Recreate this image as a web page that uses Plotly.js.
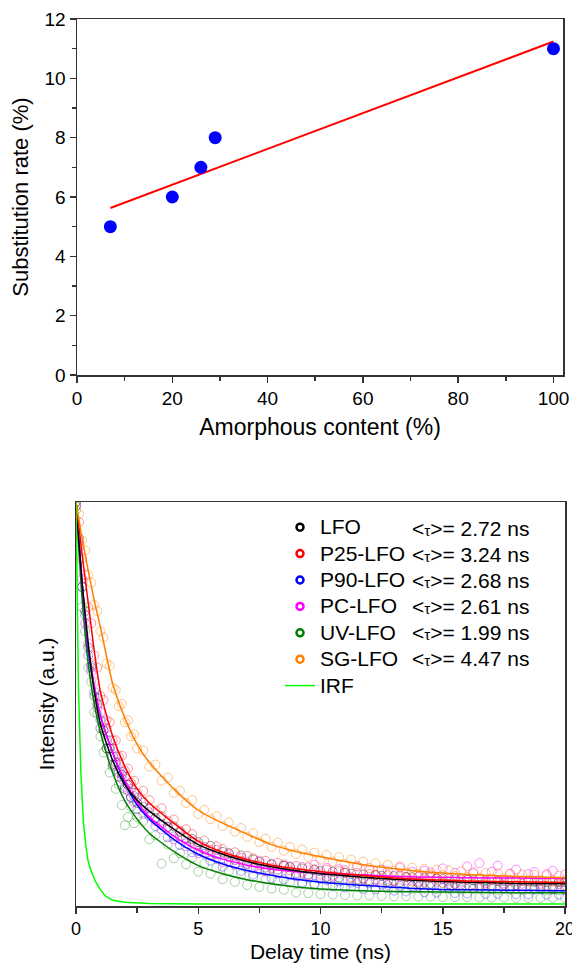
<!DOCTYPE html>
<html>
<head>
<meta charset="utf-8">
<script src="https://cdn.plot.ly/plotly-3.0.1.min.js"></script>
<style>html,body{margin:0;padding:0;background:#fff;}#chart{width:572px;height:965px;}</style>
</head>
<body>
<div id="chart"></div>
<script>
// ---------- Top chart data ----------
const amorphous = [7, 20, 26, 29, 100];
const substitution = [5, 6, 7, 8, 11];
const fitAmorphous = [7, 100];
const fitSubstitution = [5.63, 11.24];

// ---------- Bottom chart data ----------
const seriesNames = ['LFO', 'P25-LFO', 'P90-LFO', 'PC-LFO', 'UV-LFO', 'SG-LFO'];
const tauLabels = ['2.72', '3.24', '2.68', '2.61', '1.99', '4.47'];
const seriesColors = ['#000000', '#ff0000', '#0000ff', '#ff00ff', '#008000', '#ff8000'];
const seriesFaint = ['rgba(0,0,0,0.4)', 'rgba(255,0,0,0.4)', 'rgba(0,0,255,0.35)', 'rgba(255,0,255,0.45)', 'rgba(0,128,0,0.35)', 'rgba(255,128,0,0.45)'];

const tData = [0,0.125,0.25,0.375,0.5,0.625,0.75,0.875,1,1.125,1.25,1.375,1.5,1.625,1.75,1.875,2,2.125,2.25,2.375,2.5,
  2.75,3,3.25,3.5,3.75,4,4.25,4.5,4.75,5,5.25,5.5,5.75,6,6.25,6.5,6.75,7,7.25,7.5,7.75,8,8.25,8.5,8.75,9,9.25,9.5,9.75,10,
  10.25,10.5,10.75,11,11.25,11.5,11.75,12,12.25,12.5,12.75,13,13.25,13.5,13.75,14,14.25,14.5,14.75,15,15.25,15.5,15.75,16,
  16.25,16.5,16.75,17,17.25,17.5,17.75,18,18.25,18.5,18.75,19,19.25,19.5,19.75,20];

const dataLFO = [1.0,0.90,0.79,0.73,0.64,0.595,0.52,0.50,0.44,0.435,0.39,0.39,0.35,0.355,0.32,0.325,0.29,0.30,0.27,0.28,0.255,
  0.256,0.242,0.218,0.222,0.196,0.197,0.183,0.168,0.166,0.158,0.14,0.149,0.128,0.134,0.131,0.114,0.125,0.104,0.115,0.109,0.095,0.103,0.09,0.099,0.096,0.081,0.093,0.078,0.089,0.086,
  0.072,0.085,0.07,0.082,0.08,0.066,0.078,0.064,0.076,0.075,0.061,0.074,0.059,0.072,0.071,0.057,0.07,0.055,0.068,0.067,0.054,0.066,0.053,0.065,
  0.064,0.051,0.063,0.05,0.062,0.062,0.049,0.061,0.049,0.061,0.06,0.048,0.06,0.048,0.06,0.059];
const dataP25 = [0.99,0.95,0.86,0.82,0.74,0.70,0.62,0.59,0.52,0.51,0.46,0.455,0.41,0.41,0.37,0.372,0.335,0.34,0.305,0.31,0.28,
  0.285,0.262,0.236,0.242,0.21,0.214,0.186,0.19,0.178,0.152,0.162,0.139,0.148,0.141,0.121,0.133,0.112,0.124,0.118,0.101,0.112,0.094,0.107,0.103,0.088,0.099,0.083,0.096,0.091,0.078,
  0.09,0.075,0.086,0.083,0.071,0.082,0.068,0.079,0.077,0.065,0.076,0.063,0.075,0.071,0.06,0.072,0.058,0.07,0.068,0.057,0.069,0.055,0.067,0.066,
  0.054,0.066,0.053,0.065,0.064,0.052,0.064,0.051,0.063,0.062,0.05,0.062,0.05,0.061,0.06,0.05];
const dataP90 = [0.99,0.91,0.79,0.72,0.62,0.59,0.53,0.515,0.46,0.455,0.41,0.41,0.37,0.37,0.33,0.332,0.295,0.30,0.268,0.272,0.24,
  0.245,0.222,0.198,0.203,0.17,0.172,0.151,0.155,0.133,0.136,0.129,0.112,0.118,0.097,0.108,0.104,0.087,0.095,0.078,0.089,0.086,0.069,0.081,0.066,0.077,0.074,0.058,0.07,0.055,0.067,
  0.064,0.049,0.061,0.046,0.058,0.057,0.042,0.056,0.041,0.053,0.052,0.038,0.05,0.036,0.049,0.048,0.034,0.047,0.033,0.046,0.045,0.032,0.045,0.031,
  0.044,0.044,0.03,0.043,0.03,0.043,0.042,0.029,0.042,0.029,0.042,0.041,0.028,0.041,0.028,0.04];
const dataPC = [1.0,0.89,0.81,0.70,0.65,0.58,0.555,0.49,0.48,0.435,0.44,0.39,0.39,0.35,0.355,0.315,0.32,0.285,0.29,0.258,0.267,
  0.228,0.232,0.21,0.19,0.195,0.165,0.172,0.148,0.16,0.131,0.146,0.124,0.139,0.109,0.128,0.102,0.119,0.108,0.094,0.112,0.086,0.104,0.082,0.1,0.098,0.075,0.097,0.076,0.102,0.072,
  0.094,0.07,0.091,0.089,0.066,0.098,0.067,0.088,0.064,0.09,0.086,0.062,0.095,0.063,0.085,0.06,0.087,0.083,0.059,0.093,0.06,0.082,0.058,0.098,
  0.081,0.106,0.057,0.085,0.1,0.056,0.08,0.09,0.055,0.079,0.084,0.055,0.079,0.087,0.054,0.078];
const dataUV = [0.98,0.86,0.74,0.68,0.59,0.555,0.48,0.475,0.42,0.38,0.39,0.33,0.345,0.29,0.30,0.25,0.20,0.22,0.245,0.205,0.22,
  0.21,0.165,0.175,0.105,0.152,0.118,0.131,0.103,0.12,0.085,0.104,0.08,0.095,0.066,0.087,0.06,0.078,0.052,0.072,0.047,0.066,0.043,0.062,0.04,0.058,0.033,0.055,0.032,0.052,0.029,
  0.05,0.028,0.049,0.027,0.047,0.026,0.046,0.026,0.045,0.025,0.044,0.024,0.044,0.024,0.043,0.023,0.043,0.023,0.042,0.022,0.042,0.022,0.041,0.022,
  0.041,0.021,0.041,0.021,0.04,0.021,0.04,0.02,0.04,0.02,0.04,0.02,0.039,0.02,0.039,0.02];
const dataSG = [1.0,0.97,0.905,0.88,0.82,0.80,0.745,0.73,0.68,0.665,0.60,0.595,0.54,0.535,0.495,0.50,0.455,0.46,0.42,0.425,0.39,
  0.385,0.345,0.35,0.31,0.318,0.28,0.285,0.255,0.262,0.228,0.238,0.215,0.222,0.198,0.207,0.184,0.193,0.171,0.18,0.158,0.166,0.146,0.157,0.137,0.146,0.129,0.14,0.122,0.132,0.115,
  0.126,0.11,0.121,0.104,0.115,0.099,0.11,0.094,0.106,0.09,0.102,0.087,0.098,0.083,0.095,0.08,0.092,0.078,0.09,0.076,0.088,0.074,0.086,0.072,
  0.084,0.07,0.082,0.068,0.081,0.068,0.079,0.066,0.078,0.065,0.077,0.064,0.076,0.063,0.075,0.064];

const tFit = [0,0.25,0.5,0.75,1,1.5,2,2.5,3,4,5,6,7,8,9,10,12,14,16,18,20];
const fitLFO = [1.0,0.80,0.65,0.53,0.45,0.36,0.30,0.262,0.235,0.19,0.152,0.128,0.11,0.097,0.087,0.08,0.07,0.063,0.059,0.056,0.055];
const fitP25 = [1.0,0.87,0.75,0.63,0.53,0.42,0.345,0.29,0.255,0.205,0.16,0.133,0.115,0.101,0.092,0.085,0.074,0.066,0.062,0.06,0.058];
const fitP90 = [1.0,0.80,0.63,0.54,0.47,0.38,0.305,0.25,0.215,0.165,0.128,0.104,0.088,0.076,0.066,0.059,0.05,0.043,0.04,0.039,0.038];
const fitPC  = [1.0,0.80,0.64,0.545,0.47,0.38,0.31,0.257,0.22,0.173,0.138,0.116,0.101,0.091,0.085,0.081,0.076,0.072,0.07,0.069,0.068];
const fitUV  = [1.0,0.76,0.60,0.50,0.43,0.33,0.26,0.215,0.18,0.135,0.1,0.08,0.065,0.055,0.047,0.042,0.037,0.035,0.034,0.033,0.033];
const fitSG  = [1.0,0.91,0.83,0.755,0.69,0.55,0.465,0.40,0.355,0.29,0.237,0.205,0.178,0.152,0.135,0.122,0.10,0.086,0.078,0.073,0.070];

const tIrf = [0,0.05,0.1,0.2,0.3,0.4,0.5,0.6,0.8,1.0,1.2,1.5,2,3,5,10,20];
const irf  = [1.0,0.75,0.54,0.33,0.21,0.15,0.11,0.09,0.06,0.04,0.025,0.014,0.009,0.006,0.005,0.005,0.005];

const FONT = 'Liberation Sans, Arial, sans-serif';
const AX = '#333333';

const dataSets = [dataLFO, dataP25, dataP90, dataPC, dataUV, dataSG];
const fitSets = [fitLFO, fitP25, fitP90, fitPC, fitUV, fitSG];
const drawOrder = [4, 2, 3, 0, 1, 5];

const traces = [];
// top chart
traces.push({x: fitAmorphous, y: fitSubstitution, xaxis: 'x', yaxis: 'y', mode: 'lines',
  line: {color: '#ff0000', width: 2}, showlegend: false, hoverinfo: 'skip'});
traces.push({x: amorphous, y: substitution, xaxis: 'x', yaxis: 'y', mode: 'markers',
  marker: {color: '#0000ff', size: 13, symbol: 'circle'}, showlegend: false});

// bottom chart: measured points
drawOrder.forEach(i => {
  traces.push({x: tData, y: dataSets[i], xaxis: 'x2', yaxis: 'y2', mode: 'markers', showlegend: false,
    marker: {symbol: 'circle-open', size: 9, color: seriesFaint[i], line: {width: 1}}, hoverinfo: 'skip'});
});
// fit curves
drawOrder.forEach(i => {
  traces.push({x: tFit, y: fitSets[i], xaxis: 'x2', yaxis: 'y2', mode: 'lines', showlegend: false,
    line: {color: seriesColors[i], width: 1.5, shape: 'spline', smoothing: 0.6}, hoverinfo: 'skip'});
});
// legend entries
const LEGSPAN = s => '<span style="font-size:21px">' + s + '</span>';
seriesNames.forEach((n, i) => {
  traces.push({x: [null], y: [null], xaxis: 'x2', yaxis: 'y2', mode: 'markers', name: LEGSPAN(n), legendrank: i + 1,
    marker: {symbol: 'circle-open', size: 7, color: seriesColors[i], line: {width: 2.5}}});
});
traces.push({x: tIrf, y: irf, xaxis: 'x2', yaxis: 'y2', mode: 'lines', name: LEGSPAN('IRF'), legendrank: 7,
  line: {color: '#00ff00', width: 1.5}});

const W = 572, H = 965;
const py = p => (H - p) / H;
const px = p => p / W;

const rowY = [528, 554, 580, 606, 632, 658];
const annotations = tauLabels.map((v, i) => ({
  xref: 'paper', yref: 'paper', x: px(410), y: py(rowY[i]), xanchor: 'left', yanchor: 'middle',
  text: '&lt;<span style="font-size:15px">τ</span>&gt;= ' + v + ' ns', showarrow: false,
  font: {family: FONT, size: 21, color: '#000'}
}));

const axisCommon = {
  showline: true, linewidth: 1.5, linecolor: AX, mirror: true, showgrid: false, zeroline: false,
  ticks: 'outside', ticklen: 6, tickwidth: 1.5, tickcolor: AX, ticklabeloverflow: 'allow',
  tickfont: {family: FONT, size: 19, color: '#000'}
};

const layout = {
  width: W, height: H,
  margin: {l: 0, r: 0, t: 0, b: 0},
  paper_bgcolor: '#fff', plot_bgcolor: '#fff',
  font: {family: FONT, size: 18, color: '#000'},
  showlegend: true,
  xaxis: Object.assign({}, axisCommon, {
    domain: [px(77), px(563)], anchor: 'y', range: [0, 102], tick0: 0, dtick: 20,
    minor: {dtick: 10, ticks: 'outside', ticklen: 4, tickwidth: 1.5, tickcolor: AX},
    title: {text: 'Amorphous content (%)', font: {family: FONT, size: 23, color: '#000'}, standoff: 10}
  }),
  yaxis: Object.assign({}, axisCommon, {
    domain: [py(375), py(19)], anchor: 'x', range: [0, 12], tick0: 0, dtick: 2,
    minor: {dtick: 1, ticks: 'outside', ticklen: 4, tickwidth: 1.5, tickcolor: AX},
    title: {text: 'Substitution rate (%)', font: {family: FONT, size: 22, color: '#000'}, standoff: 10}
  }),
  xaxis2: Object.assign({}, axisCommon, {
    domain: [px(76), px(565)], anchor: 'y2', range: [0, 20], tick0: 0, dtick: 5,
    tickfont: {family: FONT, size: 18, color: '#000'},
    minor: {dtick: 2.5, ticks: 'outside', ticklen: 5, tickwidth: 1.5, tickcolor: AX},
    title: {text: 'Delay time (ns)', font: {family: FONT, size: 21, color: '#000'}, standoff: 6}
  }),
  yaxis2: Object.assign({}, axisCommon, {
    domain: [py(906), py(502)], anchor: 'x2', range: [0, 1], showticklabels: false, ticks: '',
    title: {text: 'Intensity (a.u.)', font: {family: FONT, size: 21, color: '#000'}, standoff: 14}
  }),
  legend: {
    x: px(280), y: py(509), xanchor: 'left', yanchor: 'top',
    bgcolor: 'rgba(0,0,0,0)', borderwidth: 0, tracegroupgap: 0,
    font: {family: FONT, size: 18, color: '#000'}
  },
  annotations: annotations
};

Plotly.newPlot('chart', traces, layout, {displayModeBar: false, staticPlot: true});
</script>
</body>
</html>
